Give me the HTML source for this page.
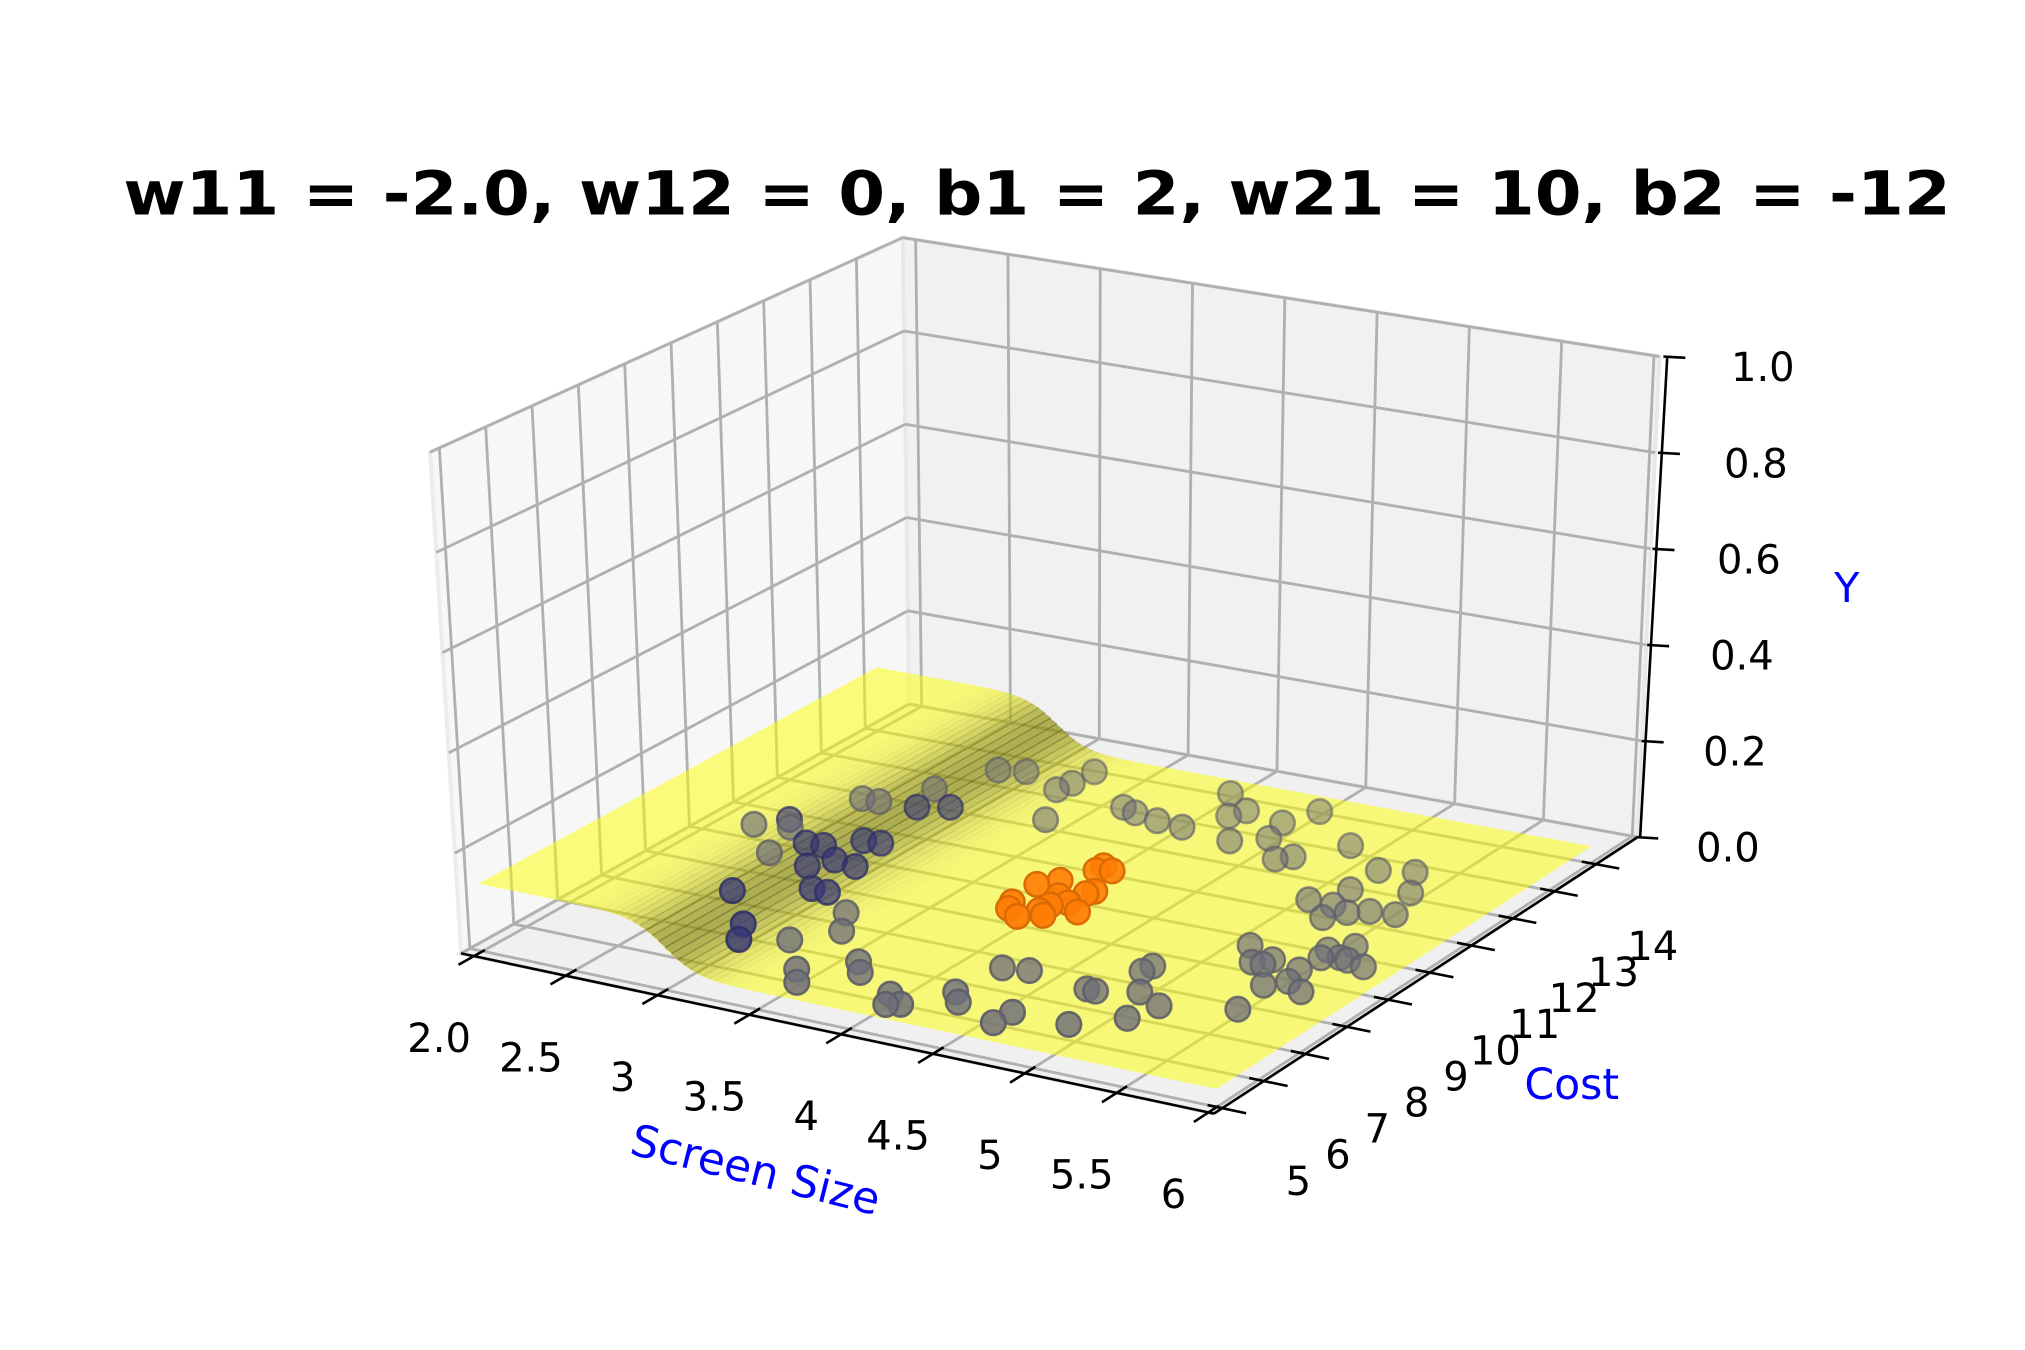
<!DOCTYPE html>
<html><head><meta charset="utf-8">
<style>
html,body{margin:0;padding:0;background:#fff;}
svg{display:block;}
text{font-family:"DejaVu Sans","Liberation Sans",sans-serif;}
</style></head>
<body>
<svg id="chart" xmlns="http://www.w3.org/2000/svg" width="2025" height="1350" viewBox="0 0 1568 1045" preserveAspectRatio="none">
<rect x="0" y="0" width="1568" height="1045" fill="#ffffff"/>
<text x="803" y="166" text-anchor="middle" font-size="47" font-weight="bold" textLength="1415" lengthAdjust="spacingAndGlyphs">w11 = -2.0, w12 = 0, b1 = 2, w21 = 10, b2 = -12</text>
<g id="panes"></g>
<g id="grid"></g>
<g id="surface"></g>
<g id="points"></g>
<g id="axes"></g>
<text x="585" y="906" text-anchor="middle" dominant-baseline="central" font-size="34" fill="#0000ff" transform="rotate(14 585 906)">Screen Size</text>
<text x="1217" y="840" text-anchor="middle" dominant-baseline="central" font-size="33" fill="#0000ff">Cost</text>
<text x="1430" y="455" text-anchor="middle" dominant-baseline="central" font-size="32" fill="#0000ff">Y</text>
</svg>
<script>
// ---- data ----
const screenSize = [2.18,2.29,2.35,2.45,2.53,2.62,2.77,2.90,2.70,2.88,2.97,2.57,2.85,2.94,3.15,3.19,3.30,2.75,2.84,2.44,2.53,2.73,2.67,2.87,2.80,2.93,
3.38,3.47,3.58,3.66,3.93,4.04,3.98,4.18,4.26,4.21,4.34,4.55,4.54,4.86,4.70,4.75,5.06,4.94,4.81,4.82,5.11,5.46,
3.36,3.19,3.21,3.22,3.60,3.69,3.84,3.99,3.96,4.11,4.29,4.15,4.44,4.39,4.61,4.67,4.47,4.84,5.13,5.30,
5.03,5.21,5.17,5.14,5.28,5.37,5.50,5.42,5.09,5.21,5.27,5.28,5.46,5.41,5.49,5.61,5.45,5.55,5.54,5.71,5.47,5.60,
3.80,3.92,3.78,3.97,3.98,3.85,3.95,4.04,4.14,4.05,3.93,3.93,4.00,4.07,4.02,3.83];
const cost = [10.44,10.80,10.57,9.68,10.19,10.22,9.85,9.78,9.51,8.87,8.85,8.33,7.41,6.93,7.22,8.36,7.79,10.60,10.62,11.85,11.86,11.91,12.56,12.10,13.49,13.60,
6.41,6.03,7.00,6.70,6.25,6.02,5.93,6.71,6.43,7.68,7.76,6.46,6.05,6.45,7.57,7.56,6.97,7.79,8.40,8.61,7.51,7.87,
12.27,13.23,13.51,13.98,13.08,12.98,12.87,12.82,14.08,13.41,12.68,13.66,12.97,13.50,12.40,12.57,14.04,13.21,12.64,12.79,
11.41,10.97,11.39,11.93,11.25,11.41,11.46,12.17,9.76,9.29,9.29,9.48,9.34,8.70,8.95,8.73,10.07,9.92,10.33,9.79,9.81,9.89,
9.65,9.26,10.31,9.56,9.78,10.56,10.10,9.95,9.74,10.32,11.06,11.24,11.14,10.44,9.44,9.44];
const pointClass = [0,2,0,0,2,2,2,2,2,2,2,2,2,2,0,0,0,2,2,0,0,2,0,2,0,0,
0,0,0,0,0,0,0,0,0,0,0,0,0,0,0,0,0,0,0,0,0,0,
0,0,0,0,0,0,0,0,0,0,0,0,0,0,0,0,0,0,0,0,
0,0,0,0,0,0,0,0,0,0,0,0,0,0,0,0,0,0,0,0,0,0,
1,1,1,1,1,1,1,1,1,1,1,1,1,1,1,1];
const xTicks = [2.0,2.5,3,3.5,4,4.5,5,5.5,6];
const xTickLabels = ["2.0","2.5","3","3.5","4","4.5","5","5.5","6"];
const costTicks = [5,6,7,8,9,10,11,12,13,14];
const costTickLabels = ["5","6","7","8","9","10","11","12","13","14"];
const zTicks = [0,0.2,0.4,0.6,0.8,1.0];
const zTickLabels = ["0.0","0.2","0.4","0.6","0.8","1.0"];
const surfLow = 0.035, surfHigh = 0.135, surfCenter = 3.0, surfSteep = 12;

// ---- projection ----
const XMIN=1.93, XMAX=6.03, CMIN=4.8, CMAX=15.0, ZMIN=0, ZMAX=1;
const A=[357,738],B=[940,862],C=[1268,648],D=[704,545];
const A2=[333,350],B2=[937,462],C2=[1285,276],D2=[699,184];
function bil(p,q,r,s,u,v){
  return [(1-u)*(1-v)*p[0]+u*(1-v)*q[0]+u*v*r[0]+(1-u)*v*s[0],
          (1-u)*(1-v)*p[1]+u*(1-v)*q[1]+u*v*r[1]+(1-u)*v*s[1]];
}
function P(x,c,z){
  const u=(x-XMIN)/(XMAX-XMIN), v=(c-CMIN)/(CMAX-CMIN), w=(z-ZMIN)/(ZMAX-ZMIN);
  const b=bil(A,B,C,D,u,v), t=bil(A2,B2,C2,D2,u,v);
  return [b[0]+(t[0]-b[0])*w, b[1]+(t[1]-b[1])*w];
}
const NS="http://www.w3.org/2000/svg";
function mk(tag,parent){const e=document.createElementNS(NS,tag);parent.appendChild(e);return e;}
function pts(arr){return arr.map(p=>p[0].toFixed(1)+","+p[1].toFixed(1)).join(" ");}

// panes
const panes=document.getElementById('panes');
let pl=mk('polygon',panes);


pl.setAttribute('points',pts([P(XMIN,CMIN,0),P(XMIN,CMAX,0),P(XMIN,CMAX,1),P(XMIN,CMIN,1)]));
pl.setAttribute('fill','#f7f7f7');pl.setAttribute('stroke','#ececec');pl.setAttribute('stroke-width','3');
let pb=mk('polygon',panes);


pb.setAttribute('points',pts([P(XMIN,CMAX,0),P(XMAX,CMAX,0),P(XMAX,CMAX,1),P(XMIN,CMAX,1)]));
pb.setAttribute('fill','#f1f1f1');pb.setAttribute('stroke','#e8e8e8');pb.setAttribute('stroke-width','3');
let pf=mk('polygon',panes);


pf.setAttribute('points',pts([P(XMIN,CMIN,0),P(XMAX,CMIN,0),P(XMAX,CMAX,0),P(XMIN,CMAX,0)]));
pf.setAttribute('fill','#f0f0f0');pf.setAttribute('stroke','#e6e6e6');pf.setAttribute('stroke-width','3');

// grid
const grid=document.getElementById('grid');
function gline(p,q,name){
  const l=mk('line',grid);
  
  
  l.setAttribute('x1',p[0]);l.setAttribute('y1',p[1]);l.setAttribute('x2',q[0]);l.setAttribute('y2',q[1]);
  l.setAttribute('stroke','#b0b0b0');l.setAttribute('stroke-width','2.2');
}
xTicks.forEach(x=>{gline(P(x,CMIN,0),P(x,CMAX,0),'x-gridline');gline(P(x,CMAX,0),P(x,CMAX,1),'x-gridline');});
costTicks.forEach(c=>{gline(P(XMIN,c,0),P(XMAX,c,0),'cost-gridline');gline(P(XMIN,c,0),P(XMIN,c,1),'cost-gridline');});
zTicks.forEach(z=>{gline(P(XMIN,CMIN,z),P(XMIN,CMAX,z),'z-gridline');gline(P(XMIN,CMAX,z),P(XMAX,CMAX,z),'z-gridline');});

// surface
const surf=document.getElementById('surface');
function zf(x){return surfLow+(surfHigh-surfLow)/(1+Math.exp(surfSteep*(x-surfCenter)));}
const SX0=2,SX1=6,SC0=5,SC1=14;
let outline=[];
const N=120;
for(let i=0;i<=N;i++){const x=SX0+(SX1-SX0)*i/N;outline.push(P(x,SC0,zf(x)));}
for(let i=N;i>=0;i--){const x=SX0+(SX1-SX0)*i/N;outline.push(P(x,SC1,zf(x)));}
let sb=mk('polygon',surf);


sb.setAttribute('points',pts(outline));sb.setAttribute('fill','#ffff00');sb.setAttribute('fill-opacity','0.5');
const maxSlope=(surfHigh-surfLow)*surfSteep/4;
for(let i=0;i<N;i++){
  const x0=SX0+(SX1-SX0)*i/N,x1=SX0+(SX1-SX0)*(i+1)/N;
  const slope=Math.abs(zf(x1)-zf(x0))/(x1-x0);
  const d=0.38*slope/maxSlope;
  if(d<0.01)continue;
  const s=mk('polygon',surf);
  
  
  s.setAttribute('points',pts([P(x0,SC0,zf(x0)),P(x1+0.01,SC0,zf(x1)),P(x1+0.01,SC1,zf(x1)),P(x0,SC1,zf(x0))]));
  s.setAttribute('fill','#303010');s.setAttribute('fill-opacity',d.toFixed(3));
}

// points
const pg=document.getElementById('points');
const idx=screenSize.map((_,i)=>i);
function depth(i){return (cost[i]-CMIN)/(CMAX-CMIN)-0.5*(screenSize[i]-XMIN)/(XMAX-XMIN);}
idx.sort((a,b)=>depth(b)-depth(a));
const cols={0:[110,110,122],1:[255,125,5],2:[55,55,120]};
idx.forEach(i=>{
  const p=P(screenSize[i],cost[i],0);
  const v=(cost[i]-CMIN)/(CMAX-CMIN);
  let a=0.9-0.45*v;
  if(pointClass[i]===1)a=Math.min(1,a+0.25);
  const col=cols[pointClass[i]];
  const c=mk('circle',pg);
  
  
  c.setAttribute('cx',p[0].toFixed(1));c.setAttribute('cy',p[1].toFixed(1));c.setAttribute('r','9.5');
  c.setAttribute('fill','rgb('+col.join(',')+')');c.setAttribute('fill-opacity',a.toFixed(2));
  c.setAttribute('stroke','rgb('+col.map(v=>Math.round(v*0.85)).join(',')+')');c.setAttribute('stroke-opacity',Math.min(1,a+0.1).toFixed(2));c.setAttribute('stroke-width','2');
});

// axes
const ax=document.getElementById('axes');
function aline(p,q,name,w){
  const l=mk('line',ax);
  
  
  l.setAttribute('x1',p[0]);l.setAttribute('y1',p[1]);l.setAttribute('x2',q[0]);l.setAttribute('y2',q[1]);
  l.setAttribute('stroke','#000');l.setAttribute('stroke-width',w||'2');
}
function atext(x,y,str,name,anchor){
  const t=mk('text',ax);
  
  
  t.setAttribute('x',x.toFixed(1));t.setAttribute('y',y.toFixed(1));
  t.setAttribute('font-size','31');t.setAttribute('text-anchor',anchor||'middle');
  t.setAttribute('dominant-baseline','central');t.textContent=str;
}
aline(P(XMIN,CMIN,0),P(XMAX,CMIN,0),'x-axis-line');
aline(P(XMAX,CMIN,0),P(XMAX,CMAX,0),'cost-axis-line');
const zb=P(XMAX,CMAX,0),zt=P(XMAX,CMAX,1);
aline([zb[0]+2,zb[1]],[zt[0]+6,zt[1]],'z-axis-line');
xTicks.forEach((x,i)=>{
  aline(P(x,CMIN+0.25,0),P(x,CMIN-0.35,0),'x-tick');
  const p=P(x,CMIN,0);
  atext(p[0]-27,p[1]+64,xTickLabels[i],'x-tick-label');
});
costTicks.forEach((c,i)=>{
  aline(P(XMAX-0.08,c,0),P(XMAX+0.13,c,0),'cost-tick');
  const p=P(XMAX,c,0);const f=(c-5)/9;
  atext(p[0]+59-15*f,p[1]+57+7*f,costTickLabels[i],'cost-tick-label');
});
zTicks.forEach((z,i)=>{
  const f=z;
  const x=zb[0]+2+(zt[0]+6-zb[0]-2)*f, y=zb[1]+(zt[1]-zb[1])*f;
  aline([x-3,y],[x+14,y+1],'z-tick');
  atext(x+68+6*f,y+9,zTickLabels[i],'z-tick-label');
});
</script>
</body></html>
